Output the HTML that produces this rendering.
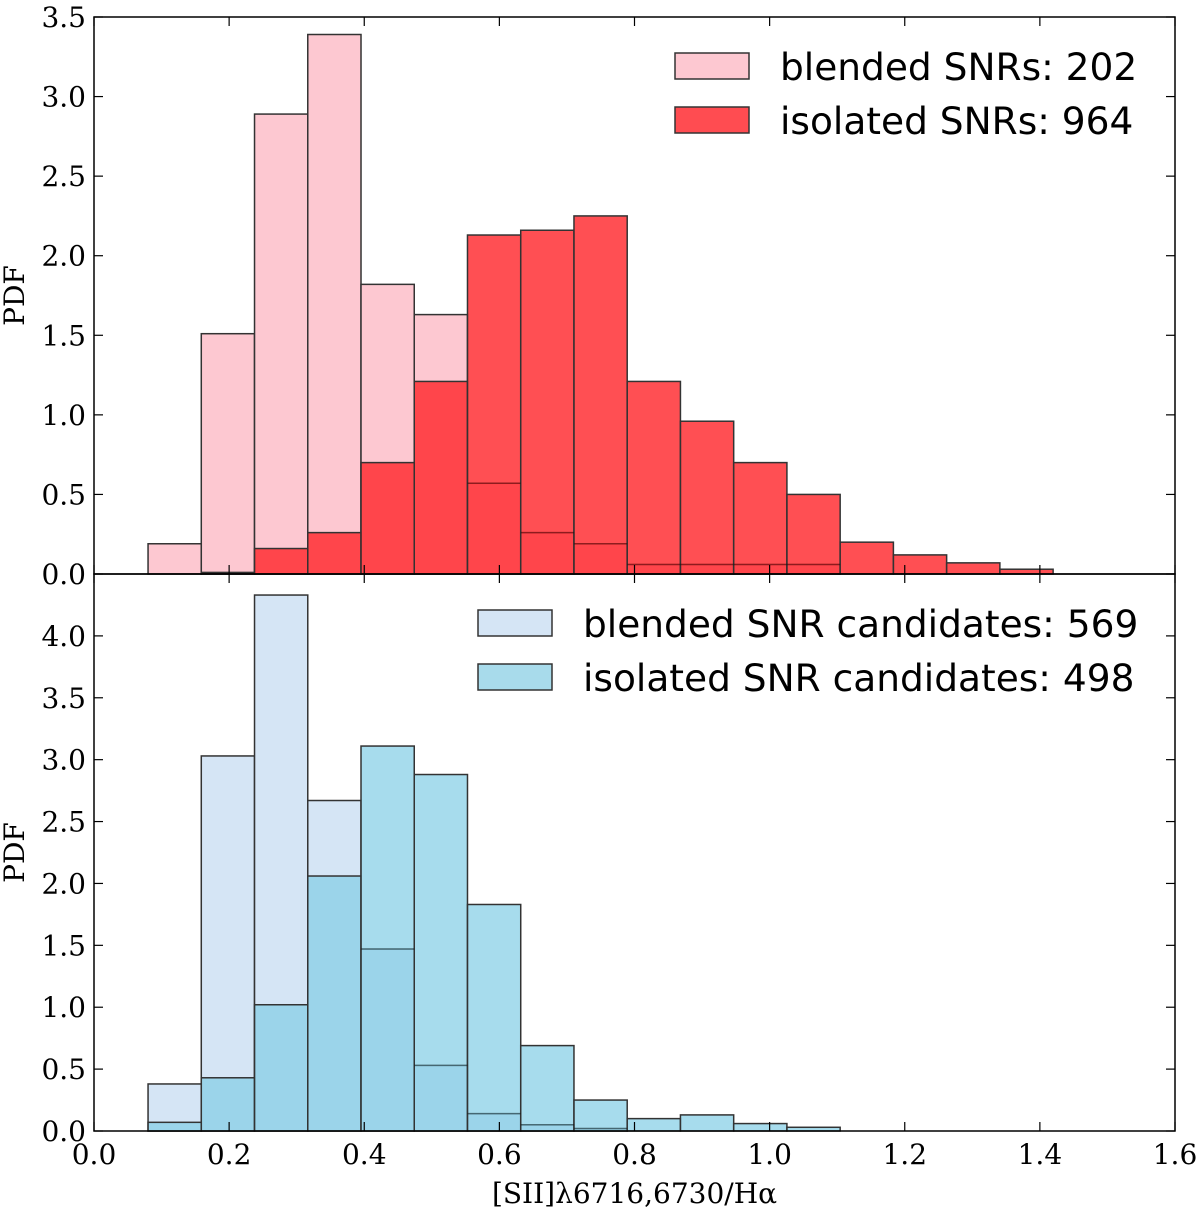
<!DOCTYPE html>
<html><head><meta charset="utf-8"><style>
html,body{margin:0;padding:0;background:#fff;}
svg text{font-family:"DejaVu Serif","Liberation Serif",serif;}
</style></head><body>
<svg id="chart" width="1200" height="1211" xmlns="http://www.w3.org/2000/svg"></svg>
<script>
const binStart = 0.08;
const binWidth = 0.0788;
const topBlended = [0.19,1.51,2.89,3.39,1.82,1.63,0.57,0.26,0.19,0.06,0.06,0.06,0.06,0,0,0,0];
const topIsolated = [0,0.01,0.16,0.26,0.70,1.21,2.13,2.16,2.25,1.21,0.96,0.70,0.50,0.20,0.12,0.07,0.03];
const botBlended = [0.38,3.03,4.33,2.67,1.47,0.53,0.14,0.05,0.02,0,0,0,0,0,0,0,0];
const botIsolated = [0.07,0.43,1.02,2.06,3.11,2.88,1.83,0.69,0.25,0.10,0.13,0.06,0.03,0,0,0,0];
const xTicks = [0.0,0.2,0.4,0.6,0.8,1.0,1.2,1.4,1.6];
const topYTicks = [0.0,0.5,1.0,1.5,2.0,2.5,3.0,3.5];
const botYTicks = [0.0,0.5,1.0,1.5,2.0,2.5,3.0,3.5,4.0];

const NS="http://www.w3.org/2000/svg";
const svg=document.getElementById('chart');
const X0=94,X1=1175;
const x=v=>X0+(v/1.6)*(X1-X0);
function mk(tag,attrs,parent){const e=document.createElementNS(NS,tag);for(const k in attrs)e.setAttribute(k,attrs[k]);(parent||svg).appendChild(e);return e;}

function panel(name,yTop,yBot,yMax,blended,isolated,cb,ci,yTicks,labels,showX){
  const y=v=>yBot-(v/yMax)*(yBot-yTop);
  const g=mk('g',{});
  
  
  blended.forEach((v,i)=>{ if(v<=0)return;
    const r=mk('rect',{x:x(binStart+i*binWidth),y:y(v),width:x(binStart+(i+1)*binWidth)-x(binStart+i*binWidth),height:yBot-y(v),fill:cb,stroke:'#333','stroke-width':1.5},g);
    
    
  });
  isolated.forEach((v,i)=>{ if(v<=0)return;
    const r=mk('rect',{x:x(binStart+i*binWidth),y:y(v),width:x(binStart+(i+1)*binWidth)-x(binStart+i*binWidth),height:yBot-y(v),fill:ci,stroke:'#333','stroke-width':1.5},g);
    
    
  });
  blended.forEach((v,i)=>{ if(v<=0||v>=isolated[i])return;
    const l=mk('line',{x1:x(binStart+i*binWidth),x2:x(binStart+(i+1)*binWidth),y1:y(v),y2:y(v),stroke:'rgba(0,0,0,0.35)','stroke-width':1.5},g);
    
    
  });
  const fr=mk('rect',{x:X0,y:yTop,width:X1-X0,height:yBot-yTop,fill:'none',stroke:'#000','stroke-width':1.5},g);
  
  
  yTicks.forEach(t=>{
    const yy=y(t);
    mk('line',{x1:X0,x2:X0+9,y1:yy,y2:yy,stroke:'#000','stroke-width':1.2},g);
    mk('line',{x1:X1,x2:X1-9,y1:yy,y2:yy,stroke:'#000','stroke-width':1.2},g);
    const tx=mk('text',{x:X0-8,y:yy+10,'text-anchor':'end','font-size':28},g);
    tx.textContent=t.toFixed(1);
    
    
  });
  xTicks.forEach(t=>{
    const xx=x(t);
    mk('line',{x1:xx,x2:xx,y1:yBot,y2:yBot-9,stroke:'#000','stroke-width':1.2},g);
    mk('line',{x1:xx,x2:xx,y1:yTop,y2:yTop+9,stroke:'#000','stroke-width':1.2},g);
    if(showX){
      const tx=mk('text',{x:xx,y:yBot+33,'text-anchor':'middle','font-size':28},g);
      tx.textContent=t.toFixed(1);
      
      
    }
  });
  const yl=mk('text',{x:0,y:0,transform:`translate(24,${(yTop+yBot)/2}) rotate(-90)`,'text-anchor':'middle','font-size':28},g);
  yl.textContent='PDF';
  
  
  const lx=labels.lx;
  labels.items.forEach((it,k)=>{
    const ly=yTop+50+k*54;
    const sw=mk('rect',{x:lx,y:ly-14,width:74,height:26,fill:it.c,stroke:'#333','stroke-width':1.5},g);
    
    
    const t=mk('text',{x:lx+105,y:ly+13,'font-size':37.5},g);
    t.setAttribute('style','font-family:"DejaVu Sans","Liberation Sans",sans-serif');
    t.textContent=it.t;
    
    
  });
}
panel('snr',17,574,3.5,topBlended,topIsolated,'#fdc8d1','rgba(255,40,45,0.82)',topYTicks,
  {lx:675,items:[{t:'blended SNRs: 202',c:'#fdc8d1'},{t:'isolated SNRs: 964',c:'#ff4c51'}]},false);
panel('candidates',574,1131,4.5,botBlended,botIsolated,'#d5e5f5','rgba(130,205,230,0.7)',botYTicks,
  {lx:478,items:[{t:'blended SNR candidates: 569',c:'#d5e5f5'},{t:'isolated SNR candidates: 498',c:'#a8dbeb'}]},true);
const xt=mk('text',{x:(X0+X1)/2,y:1203,'text-anchor':'middle','font-size':28});
xt.textContent='[SII]λ6716,6730/Hα';


</script>
</body></html>
